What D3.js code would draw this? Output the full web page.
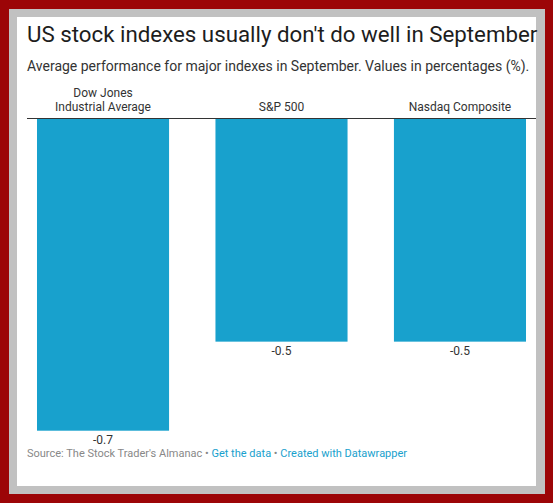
<!DOCTYPE html>
<html>
<head>
<meta charset="utf-8">
<script src="https://cdn.jsdelivr.net/npm/d3@7"></script>
<style>
  body { margin: 0; background: #9c0507; }
  svg { display: block; font-family: Roboto, "Noto Sans", sans-serif; }
</style>
</head>
<body>
<div id="chart"></div>
<script>
// Datos del gráfico
const indexNames = ["Dow Jones\nIndustrial Average", "S&P 500", "Nasdaq Composite"];
const septemberValues = [-0.7, -0.5, -0.5];

const W = 553, H = 503;

const svg = d3.select("#chart").append("svg")
    .attr("width", W)
    .attr("height", H);

// Marco rojo, borde gris y fondo blanco
svg.append("rect").attr("width", W).attr("height", H).attr("fill", "#9c0507");
svg.append("rect").attr("x", 9).attr("y", 9).attr("width", 536).attr("height", 485).attr("fill", "#c1c1c1");
svg.append("rect").attr("x", 17).attr("y", 17).attr("width", 519).attr("height", 469).attr("fill", "#ffffff");

// Título y subtítulo
svg.append("text")
    .attr("x", 27)
    .attr("y", 42)
    .attr("font-size", "22.3px")
    .attr("fill", "#1d1d1d")
    .text("US stock indexes usually don't do well in September");

svg.append("text")
    .attr("x", 27)
    .attr("y", 71)
    .attr("font-size", "14px")
    .attr("fill", "#333")
    .text("Average performance for major indexes in September. Values in percentages (%).");

// Escalas
const x = d3.scaleBand()
    .domain(indexNames)
    .range([27, 536])
    .paddingInner(0.26)
    .paddingOuter(0.056);

const y = d3.scaleLinear()
    .domain([0, -0.7])
    .range([119, 430.7]);

// Barras
svg.selectAll(".bar")
    .data(septemberValues)
    .join("rect")
    .attr("class", "bar")
    .attr("x", (d, i) => x(indexNames[i]))
    .attr("y", y(0))
    .attr("width", x.bandwidth())
    .attr("height", d => y(d) - y(0))
    .attr("fill", "#18a1cd");

// Línea base
svg.append("line")
    .attr("x1", 27)
    .attr("x2", 536)
    .attr("y1", y(0) - 0.5)
    .attr("y2", y(0) - 0.5)
    .attr("stroke", "#333")
    .attr("stroke-width", 1);

// Etiquetas de categoría (encima de la línea base)
svg.selectAll(".cat")
    .data(indexNames)
    .join("text")
    .attr("class", "cat")
    .attr("text-anchor", "middle")
    .attr("font-size", "12px")
    .attr("fill", "#333")
    .each(function(d) {
        const lines = d.split("\n");
        const t = d3.select(this);
        lines.forEach((line, k) => {
            t.append("tspan")
                .attr("x", x(d) + x.bandwidth() / 2)
                .attr("y", 111 - (lines.length - 1 - k) * 14)
                .text(line);
        });
    });

// Etiquetas de valores
svg.selectAll(".val")
    .data(septemberValues)
    .join("text")
    .attr("class", "val")
    .attr("x", (d, i) => x(indexNames[i]) + x.bandwidth() / 2)
    .attr("y", d => y(d) + 13)
    .attr("text-anchor", "middle")
    .attr("font-size", "12px")
    .attr("fill", "#333")
    .text(d => d.toFixed(1));

// Pie de página
const foot = svg.append("text")
    .attr("x", 27)
    .attr("y", 457)
    .attr("font-size", "11px")
    .attr("fill", "#888");
foot.append("tspan").text("Source: The Stock Trader's Almanac • ");
foot.append("tspan").attr("fill", "#18a1cd").text("Get the data");
foot.append("tspan").text(" • ");
foot.append("tspan").attr("fill", "#18a1cd").text("Created with Datawrapper");
</script>
</body>
</html>
